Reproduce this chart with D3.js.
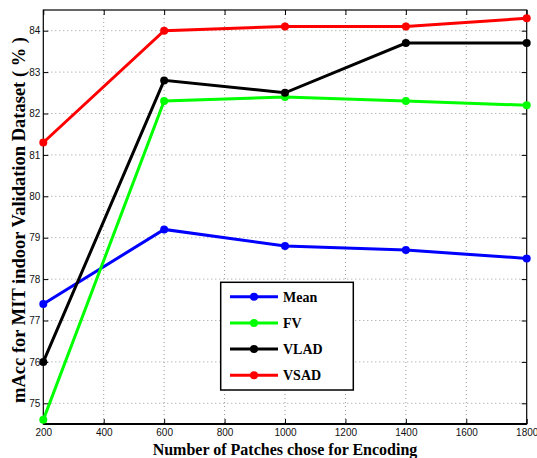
<!doctype html>
<html>
<head>
<meta charset="UTF-8">
<title>mAcc vs patches</title>
<style>
  body { margin: 0; background: #fff; }
  .tick text { font-family: "Liberation Sans", Arial, sans-serif; font-size: 10px; fill: #111; }
  .lab { font-family: "Liberation Serif", "Times New Roman", serif; font-weight: bold; font-size: 16px; fill: #000; }
  .leg { font-family: "Liberation Serif", "Times New Roman", serif; font-weight: bold; font-size: 14px; fill: #000; }
</style>
<script src="https://d3js.org/d3.v7.min.js"></script>
</head>
<body>
<svg id="chart" width="537" height="458"></svg>
<script>
// data
var patches = [200, 600, 1000, 1400, 1800];
var names = ["Mean", "FV", "VLAD", "VSAD"];
var colors = ["#0000ff", "#00ff00", "#000000", "#ff0000"];
var meanVals = [77.4, 79.2, 78.8, 78.7, 78.5];
var fvVals   = [74.6, 82.3, 82.4, 82.3, 82.2];
var vladVals = [76.0, 82.8, 82.5, 83.7, 83.7];
var vsadVals = [81.3, 84.0, 84.1, 84.1, 84.3];
var xTicks = [200, 400, 600, 800, 1000, 1200, 1400, 1600, 1800];
var yTicks = [75, 76, 77, 78, 79, 80, 81, 82, 83, 84];

var series = [meanVals, fvVals, vladVals, vsadVals];

var svg = d3.select("#chart");
var pL = 43.3, pR = 526.7, pT = 10, pB = 424;

var x = d3.scaleLinear().domain([200, 1800]).range([pL, pR]);
var y = d3.scaleLinear().domain([74.5, 84.5]).range([pB, pT]);

// dotted grid
svg.append("g").selectAll("line")
  .data(xTicks.slice(1, -1)).enter().append("line")
  .attr("x1", d => x(d)).attr("x2", d => x(d))
  .attr("y1", pT).attr("y2", pB)
  .attr("stroke", "#999").attr("stroke-width", 1).attr("stroke-dasharray", "1,3");
svg.append("g").selectAll("line")
  .data(yTicks).enter().append("line")
  .attr("x1", pL).attr("x2", pR)
  .attr("y1", d => y(d)).attr("y2", d => y(d))
  .attr("stroke", "#999").attr("stroke-width", 1).attr("stroke-dasharray", "1,3");

// axes, ticks inward
svg.append("g").attr("transform", "translate(0," + pB + ")")
  .call(d3.axisBottom(x).tickValues(xTicks).tickFormat(d3.format("d"))
    .tickSizeInner(-5).tickSizeOuter(0).tickPadding(5));
svg.append("g").attr("transform", "translate(" + pL + ",0)")
  .call(d3.axisLeft(y).tickValues(yTicks).tickFormat(d3.format("d"))
    .tickSizeInner(-5).tickSizeOuter(0).tickPadding(3));
svg.append("g").attr("transform", "translate(0," + pT + ")")
  .call(d3.axisTop(x).tickValues(xTicks).tickSizeInner(-5).tickSizeOuter(0).tickFormat(""));
svg.append("g").attr("transform", "translate(" + pR + ",0)")
  .call(d3.axisRight(y).tickValues(yTicks).tickSizeInner(-5).tickSizeOuter(0).tickFormat(""));
svg.selectAll(".domain").remove();
svg.selectAll(".tick line").attr("stroke", "#000");

// frame
svg.append("rect").attr("x", pL).attr("y", pT)
  .attr("width", pR - pL).attr("height", pB - pT)
  .attr("fill", "none").attr("stroke", "#000").attr("stroke-width", 1.2);
svg.append("line").attr("x1", pL).attr("x2", pR).attr("y1", pB).attr("y2", pB)
  .attr("stroke", "#000").attr("stroke-width", 2);

// lines
var line = d3.line().x((d, i) => x(patches[i])).y(d => y(d));
series.forEach(function(vals, k) {
  svg.append("path").datum(vals)
    .attr("d", line).attr("fill", "none")
    .attr("stroke", colors[k]).attr("stroke-width", 3);
  svg.append("g").selectAll("circle").data(vals).enter().append("circle")
    .attr("cx", (d, i) => x(patches[i])).attr("cy", d => y(d))
    .attr("r", 4).attr("fill", colors[k]);
});

// legend
var lg = svg.append("g");
lg.append("rect").attr("x", 220.7).attr("y", 282.3).attr("width", 132.6).attr("height", 107.7)
  .attr("fill", "#fff").attr("stroke", "#000").attr("stroke-width", 1.5);
names.forEach(function(n, k) {
  var ly = 296.7 + k * 26.2;
  lg.append("line").attr("x1", 230).attr("x2", 278).attr("y1", ly).attr("y2", ly)
    .attr("stroke", colors[k]).attr("stroke-width", 3);
  lg.append("circle").attr("cx", 254).attr("cy", ly).attr("r", 4).attr("fill", colors[k]);
  lg.append("text").attr("class", "leg").attr("x", 283).attr("y", ly + 5).text(n);
});

// axis titles
svg.append("text").attr("class", "lab").attr("x", (pL + pR) / 2).attr("y", 455)
  .attr("text-anchor", "middle").text("Number of Patches chose for Encoding");
svg.append("text").attr("class", "lab").style("font-size", "18.5px")
  .attr("transform", "translate(25,220) rotate(-90)")
  .attr("text-anchor", "middle").text("mAcc for MIT indoor Validation Dataset ( % )");
</script>
</body>
</html>
